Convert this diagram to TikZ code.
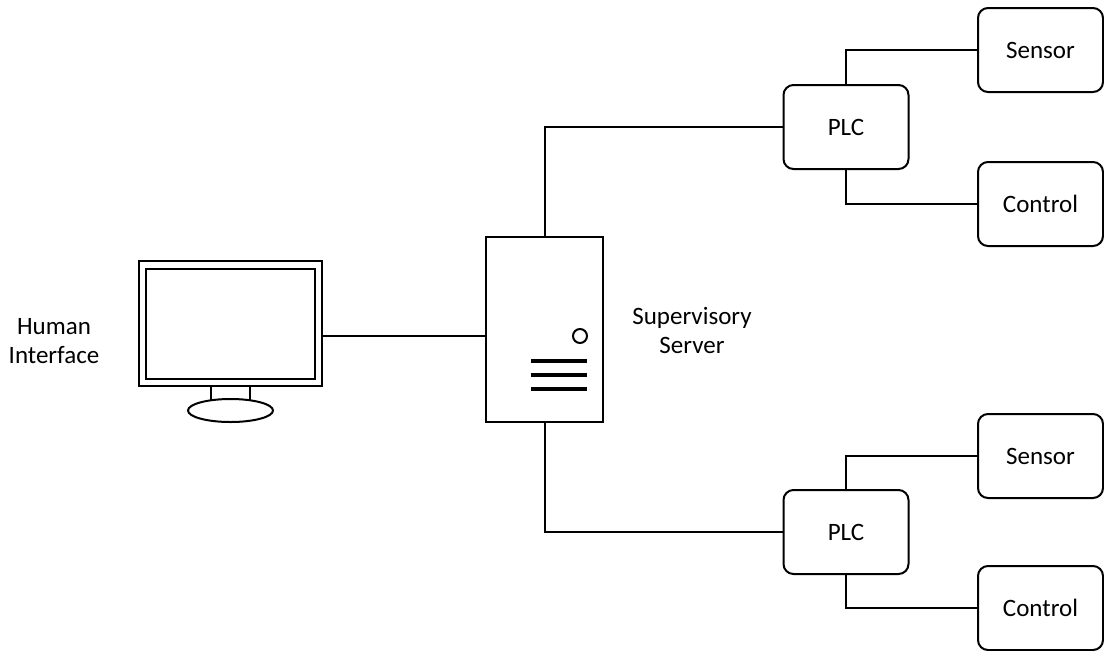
\documentclass[tikz,border=0pt]{standalone}
\usepackage{fontspec}
\setmainfont{Carlito}
\begin{document}
\begin{tikzpicture}[x=0.5pt,y=-0.5pt,line width=1pt,
	box/.style={draw,rounded corners=5pt,minimum width=62.5pt,minimum height=42pt,inner sep=0pt,font=\fontsize{12.5}{14.5}\selectfont},
	lbl/.style={align=center,font=\fontsize{12.5}{14.5}\selectfont},
	unit/.style={draw,inner sep=0pt}]
		\useasboundingbox (0,0) rectangle (1104,650);
		
		\node[lbl] (hmi) at (54,341){Human\\Interface};
		
		\node[unit,minimum width=91.5pt,minimum height=62.5pt] (monitor) at (230.5,323.5){};
		\node[unit,minimum width=84.5pt,minimum height=55pt] (screen) at (230.5,324){};
		\draw (211,386) -- (211,400.2);
		\draw (250,386) -- (250,400.2);
		\draw (230.5,410.5) ellipse [x radius=21.25pt,y radius=5.75pt];
		
		\node[unit,minimum width=58.5pt,minimum height=92.5pt] (server) at (544.5,329.5){};
		\node[draw,circle,minimum size=7pt,inner sep=0pt] (led) at (580,336){};
		\draw[line width=2pt] (531,361) -- (587,361);
		\draw[line width=2pt] (531,375) -- (587,375);
		\draw[line width=2pt] (531,389) -- (587,389);
		
		\node[lbl] (srvlbl) at (692,330){Supervisory\\Server};
		
		\node[box] (plcA) at (846,127){PLC};
		\node[box] (sensA) at (1040.5,50){Sensor};
		\node[box] (ctrlA) at (1040.5,204){Control};
		
		\node[box] (plcB) at (846,532){PLC};
		\node[box] (sensB) at (1040.5,456){Sensor};
		\node[box] (ctrlB) at (1040.5,608){Control};
		
		\draw (monitor.east |- led) -- (server.west |- led);
		\draw (server.north) |- (plcA.west);
		\draw (server.south) |- (plcB.west);
		\draw (plcA.north) |- (sensA.west);
		\draw (plcA.south) |- (ctrlA.west);
		\draw (plcB.north) |- (sensB.west);
		\draw (plcB.south) |- (ctrlB.west);
	\end{tikzpicture}
\end{document}
